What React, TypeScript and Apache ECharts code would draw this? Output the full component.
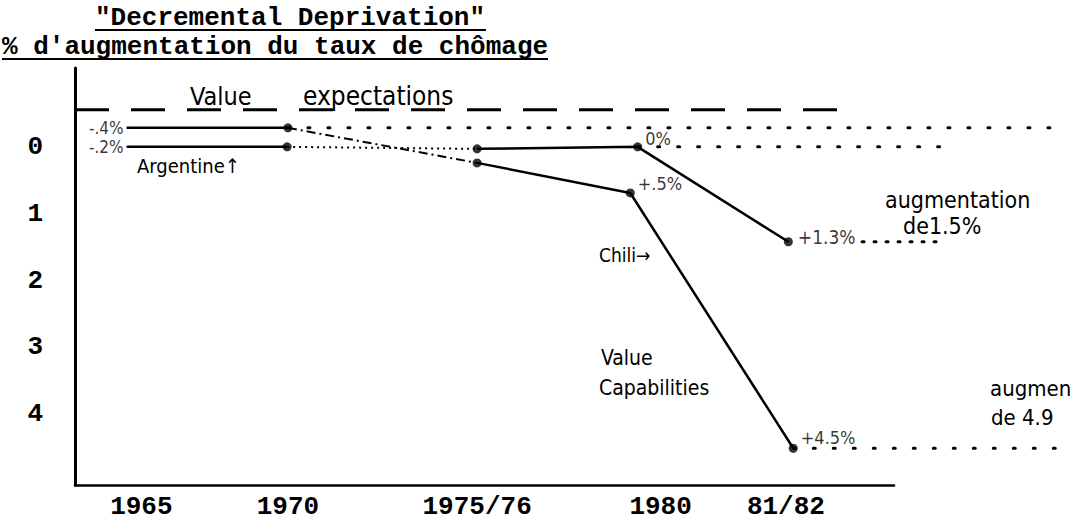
import React, { useEffect, useRef } from 'react';
import * as echarts from 'echarts';

// ---- data (positions along the hand-drawn axes) ----
const xTickPos = [8.1, 26, 49.1, 71.5, 86.8];
const xTickLabels = ['1965', '1970', '1975/76', '1980', '81/82'];
const yTickValues = [0, 1, 2, 3, 4];

const argX = [6.3, 25.9, 49.1, 68.7, 87.1];
const argY = [0, 0, 0.03, 0, 1.42];
const argLabels = ['-.2%', '', '', '0%', '+1.3%'];

const chiX = [6.3, 26.0, 49.1, 67.8, 87.7];
const chiY = [-0.285, -0.285, 0.24, 0.69, 4.51];
const chiLabels = ['-.4%', '', '', '+.5%', '+4.5%'];

const expectX = [0, 94.6];
const expectY = -0.554;

const chiExpectEndX = 121;
const arg0EndX = 105.7;
const arg13DotX = [96.1, 106.1];
const chi45EndX = 121.8;

const titleMain = '"Decremental Deprivation"';
const titleSub = "% d'augmentation du taux de chômage";
const noteArg = 'Argentine↑';
const noteChi = 'Chili→';
const noteCap1 = 'Value';
const noteCap2 = 'Capabilities';
const noteExp1 = 'Value';
const noteExp2 = 'expectations';
const noteAug1 = 'augmentation';
const noteAug1b = 'de1.5%';
const noteAug2 = 'augmen';
const noteAug2b = 'de 4.9';

const HAND = "'DejaVu Sans Condensed', 'Liberation Sans Narrow', 'DejaVu Sans', sans-serif";
const TYPE = "'Liberation Mono', 'DejaVu Sans Mono', monospace";

const W = 1073;
const GRID_LEFT = 75;
const GRID_RIGHT = 179;
const X_MAX = 100;
const Y_MIN = -1.18;
const Y_MAX = 5.06;

export default function App() {
  const ref = useRef<HTMLDivElement>(null);
  useEffect(() => {
    if (!ref.current) return;
    const chart = echarts.init(ref.current, null, { renderer: 'svg' });
    const pt = (xs: number[], ys: number[], i: number) => [xs[i], ys[i]];
    const solid = { color: '#000', width: 2.5, type: 'solid' as const };
    const lineBase = {
      type: 'line' as const, symbol: 'none', silent: true, clip: false,
      xAxisIndex: 1, yAxisIndex: 1,
    };
    const xMaxWide = (X_MAX * (W - GRID_LEFT)) / (W - GRID_LEFT - GRID_RIGHT);

    const labelCfg = (isArg: boolean, i: number, txt: string) => {
      const base: any = { show: !!txt, formatter: txt, color: '#000', fontFamily: HAND };
      if (i === 0) return { ...base, position: 'left', distance: 3, fontSize: 17 };
      if (isArg && i === 3) return { ...base, position: 'right', distance: 3, offset: [0, -8], fontSize: 18 };
      if (isArg && i === 4) return { ...base, position: 'right', distance: 5, offset: [0, -5], fontSize: 19 };
      if (!isArg && i === 3) return { ...base, position: 'right', distance: 3, offset: [0, -9], fontSize: 18 };
      if (!isArg && i === 4) return { ...base, position: 'right', distance: 3, offset: [0, -11], fontSize: 18 };
      return base;
    };

    const hand = (text: string, x: number, y: number, size: number) => ({
      type: 'text', x, y, silent: true,
      style: { text, fill: '#000', font: `${size}px ${HAND}`, verticalAlign: 'middle' },
    });

    const hiddenAxis = {
      show: false, axisLine: { show: false }, axisTick: { show: false },
      axisLabel: { show: false }, splitLine: { show: false },
    };

    chart.setOption({
      animation: false,
      backgroundColor: '#fff',
      title: [
        { text: titleMain, left: 95, top: 5, padding: 0,
          textStyle: { fontFamily: TYPE, fontSize: 26, fontWeight: 'bold', color: '#000' } },
        { text: titleSub, left: 2, top: 34, padding: 0,
          textStyle: { fontFamily: TYPE, fontSize: 26, fontWeight: 'bold', color: '#000' } },
      ],
      grid: [
        { left: GRID_LEFT, right: GRID_RIGHT, top: 68, bottom: 36, containLabel: false },
        { left: GRID_LEFT, right: 0, top: 68, bottom: 36, containLabel: false },
      ],
      xAxis: [
        {
          type: 'value', gridIndex: 0, min: 0, max: X_MAX,
          axisLine: { show: true, onZero: false, lineStyle: { color: '#000', width: 2.5 } },
          axisTick: { show: false },
          splitLine: { show: false },
          axisLabel: {
            customValues: xTickPos,
            margin: 9,
            color: '#000', fontFamily: TYPE, fontSize: 26, fontWeight: 'bold',
            formatter: (v: number) => {
              const i = xTickPos.findIndex((p) => Math.abs(p - v) < 1e-6);
              return i >= 0 ? xTickLabels[i] : '';
            },
          },
        },
        { type: 'value', gridIndex: 1, min: 0, max: xMaxWide, ...hiddenAxis },
      ],
      yAxis: [
        {
          type: 'value', gridIndex: 0, inverse: true, min: Y_MIN, max: Y_MAX,
          axisLine: { show: true, onZero: false, lineStyle: { color: '#000', width: 3 } },
          axisTick: { show: false },
          splitLine: { show: false },
          axisLabel: {
            customValues: yTickValues,
            margin: 32,
            color: '#000', fontFamily: TYPE, fontSize: 26, fontWeight: 'bold',
            formatter: (v: number) => String(Math.round(v)),
          },
        },
        { type: 'value', gridIndex: 1, inverse: true, min: Y_MIN, max: Y_MAX, ...hiddenAxis },
      ],
      series: [
        { ...lineBase, name: 'Value expectations',
          data: [[expectX[0], expectY], [expectX[1], expectY]],
          lineStyle: { color: '#000', width: 3, type: [34, 22] } },
        // Argentine
        { ...lineBase, data: [pt(argX, argY, 0), pt(argX, argY, 1)], lineStyle: solid },
        { ...lineBase, data: [pt(argX, argY, 1), pt(argX, argY, 2)],
          lineStyle: { color: '#000', width: 2, type: [2, 4] } },
        { ...lineBase, data: [pt(argX, argY, 2), pt(argX, argY, 3), pt(argX, argY, 4)], lineStyle: solid },
        // Chili
        { ...lineBase, data: [pt(chiX, chiY, 0), pt(chiX, chiY, 1)], lineStyle: solid },
        { ...lineBase, data: [pt(chiX, chiY, 1), pt(chiX, chiY, 2)],
          lineStyle: { color: '#000', width: 2, type: [9, 4, 2, 4] } },
        { ...lineBase, data: [pt(chiX, chiY, 2), pt(chiX, chiY, 3), pt(chiX, chiY, 4)], lineStyle: solid },
        // dotted continuations
        { ...lineBase, data: [pt(chiX, chiY, 1), [chiExpectEndX, chiY[1]]],
          lineStyle: { color: '#000', width: 3, type: [2, 18], cap: 'round' } },
        { ...lineBase, data: [pt(argX, argY, 3), [arg0EndX, argY[3]]],
          lineStyle: { color: '#000', width: 3, type: [2, 18], cap: 'round' } },
        { ...lineBase, data: [[arg13DotX[0], argY[4]], [arg13DotX[1], argY[4]]],
          lineStyle: { color: '#000', width: 3, type: [2, 10], cap: 'round' } },
        { ...lineBase, data: [pt(chiX, chiY, 4), [chi45EndX, chiY[4]]],
          lineStyle: { color: '#000', width: 3, type: [2, 18], cap: 'round' } },
        // points
        { type: 'scatter', name: 'Argentine', clip: false, silent: true, xAxisIndex: 1, yAxisIndex: 1,
          symbolSize: (_v: any, p: any) => (p.dataIndex === 0 ? 0 : 9),
          itemStyle: { color: '#000' },
          data: argX.map((x, i) => ({ value: [x, argY[i]], label: labelCfg(true, i, argLabels[i]) })) },
        { type: 'scatter', name: 'Chili', clip: false, silent: true, xAxisIndex: 1, yAxisIndex: 1,
          symbolSize: (_v: any, p: any) => (p.dataIndex === 0 ? 0 : 9),
          itemStyle: { color: '#000' },
          data: chiX.map((x, i) => ({ value: [x, chiY[i]], label: labelCfg(false, i, chiLabels[i]) })) },
      ],
      graphic: [
        { type: 'line', silent: true, shape: { x1: 95, y1: 30, x2: 486, y2: 30 }, style: { stroke: '#000', lineWidth: 2 } },
        { type: 'line', silent: true, shape: { x1: 2, y1: 59, x2: 548, y2: 59 }, style: { stroke: '#000', lineWidth: 2 } },
        hand(noteExp1, 190, 96, 25),
        hand(noteExp2, 303, 96, 26),
        hand(noteArg, 137, 166, 20),
        hand(noteChi, 599, 255, 19),
        hand(noteCap1, 601, 358, 21),
        hand(noteCap2, 599, 388, 21),
        hand(noteAug1, 885, 200, 23),
        hand(noteAug1b, 903, 226, 23),
        hand(noteAug2, 990, 388, 22),
        hand(noteAug2b, 991, 417, 22),
      ],
    });
    return () => chart.dispose();
  }, []);
  return <div ref={ref} style={{ position: 'absolute', left: 0, top: 0, width: W, height: 521 }} />;
}
